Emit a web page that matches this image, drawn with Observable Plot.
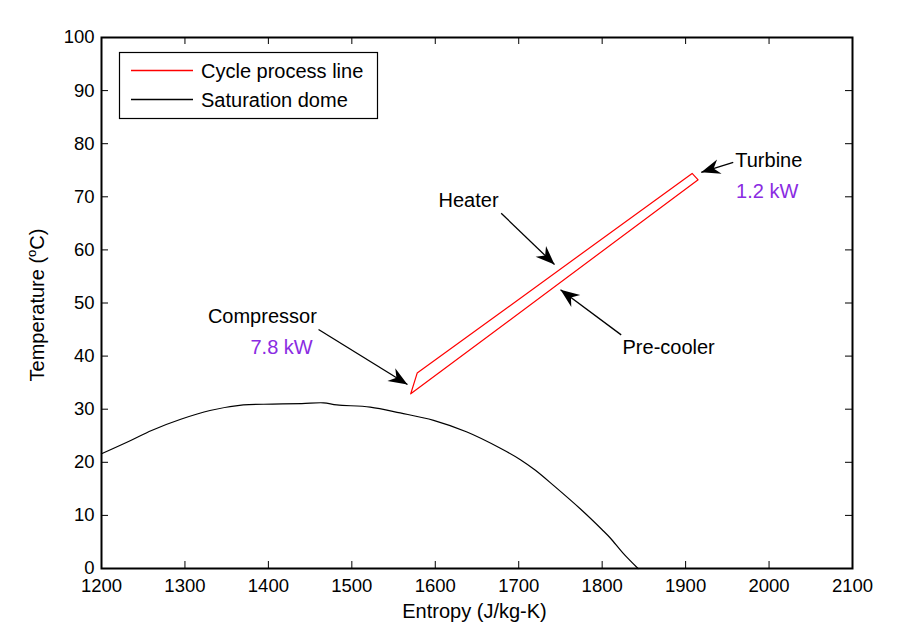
<!DOCTYPE html>
<html><head><meta charset="utf-8">
<script src="https://cdn.jsdelivr.net/npm/d3@7"></script>
<script src="https://cdn.jsdelivr.net/npm/@observablehq/plot@0.6"></script>
<style>
html,body{margin:0;padding:0;background:#fff;}
#chart svg{display:block;}
</style></head><body><div id="chart"></div>
<script>
// ---- data ----
const domeEntropy = [1200, 1235, 1260, 1295, 1330, 1370, 1405, 1440, 1466, 1482, 1522, 1558, 1598, 1638, 1678, 1702, 1720, 1742, 1774, 1800, 1810, 1825, 1843];
const domeTemp    = [21.6, 24.1, 26.0, 28.1, 29.75, 30.8, 30.95, 31.05, 31.2, 30.8, 30.4, 29.3, 27.9, 25.7, 22.65, 20.5, 18.5, 15.6, 11.2, 7.3, 5.7, 2.9, 0];

const cycleEntropy = [1570.6, 1578.3, 1907.8, 1915.0, 1570.6];
const cycleTemp    = [32.9, 36.8, 74.4, 73.2, 32.9];

const xTicks = [1200, 1300, 1400, 1500, 1600, 1700, 1800, 1900, 2000, 2100];
const yTicks = [0, 10, 20, 30, 40, 50, 60, 70, 80, 90, 100];

const labelTexts   = ["Heater", "Pre-cooler", "Turbine", "Compressor"];
const labelEntropy = [1603.9, 1824.4, 1959.5, 1327.5];
const labelTemp    = [69.3, 41.6, 76.9, 47.4];

const powerTexts   = ["1.2 kW", "7.8 kW"];
const powerEntropy = [1960.5, 1378.5];
const powerTemp    = [71.0, 41.6];

const arrowFromS = [1679.0, 1822.8, 1957.1, 1460.1];
const arrowFromT = [66.9, 44.0, 76.5, 45.0];
const arrowToS   = [1742.9, 1750.1, 1918.7, 1566.7];
const arrowToT   = [57.25, 52.5, 74.6, 34.65];

const legendLabels = ["Cycle process line", "Saturation dome"];
const legendColors = ["#ff0000", "#000000"];

// ---- layout ----
const W = 905, H = 633;
const mL = 101, mR = 53, mT = 37, mB = 65;
const plotW = W - mL - mR, plotH = H - mT - mB;
const xDomain = [1200, 2100], yDomain = [0, 100];
const kx = plotW / (xDomain[1] - xDomain[0]);
const ky = plotH / (yDomain[1] - yDomain[0]);
const FONT = "'Liberation Sans', Arial, sans-serif";

const dome = domeEntropy.map((s, i) => ({s, t: domeTemp[i]}));
const cycle = cycleEntropy.map((s, i) => ({s, t: cycleTemp[i]}));
const labels = labelTexts.map((text, i) => ({text, s: labelEntropy[i], t: labelTemp[i]}));
const powers = powerTexts.map((text, i) => ({text, s: powerEntropy[i], t: powerTemp[i]}));
const arrows = arrowFromS.map((s, i) => {
  const a = {s1: s, t1: arrowFromT[i], s2: arrowToS[i], t2: arrowToT[i]};
  a.angle = Math.atan2((a.s2 - a.s1) * kx, (a.t2 - a.t1) * ky) * 180 / Math.PI;
  return a;
});

// filled notched arrow head, pointing up with tip at origin
const headSymbol = {
  draw(ctx) {
    const L = 19, Wd = 7.5, N = 6;
    ctx.moveTo(0, 0);
    ctx.lineTo(Wd, L);
    ctx.lineTo(0, L - N);
    ctx.lineTo(-Wd, L);
    ctx.closePath();
  }
};

const chart = Plot.plot({
  width: W, height: H,
  marginLeft: mL, marginRight: mR, marginTop: mT, marginBottom: mB,
  style: {fontFamily: FONT, fontSize: "18.5px", color: "black", background: "white"},
  x: {domain: xDomain},
  y: {domain: yDomain},
  marks: [
    Plot.line(dome, {x: "s", y: "t", stroke: "black", strokeWidth: 1.2, curve: "catmull-rom"}),
    Plot.line(cycle, {x: "s", y: "t", stroke: "#ff0000", strokeWidth: 1.2}),
    Plot.link(arrows, {x1: "s1", y1: "t1", x2: "s2", y2: "t2", stroke: "black", strokeWidth: 1.3}),
    Plot.dot(arrows, {x: "s2", y: "t2", symbol: headSymbol, r: 1, fill: "black", stroke: "none", rotate: "angle"}),
    Plot.text(labels, {x: "s", y: "t", text: "text", textAnchor: "start", lineAnchor: "middle", fontSize: 20, fill: "black"}),
    Plot.text(powers, {x: "s", y: "t", text: "text", textAnchor: "start", lineAnchor: "middle", fontSize: 20, fill: "#8a2be2"}),
    // inward ticks on all four sides
    Plot.tickX(xTicks, {x: d => d, insetTop: plotH - 7, stroke: "black"}),
    Plot.tickX(xTicks, {x: d => d, insetBottom: plotH - 7, stroke: "black"}),
    Plot.tickY(yTicks, {y: d => d, insetRight: plotW - 7, stroke: "black"}),
    Plot.tickY(yTicks, {y: d => d, insetLeft: plotW - 7, stroke: "black"}),
    Plot.axisX(xTicks, {tickSize: 0, tickPadding: 10, label: null, fontSize: 18.5, tickFormat: d => String(d)}),
    Plot.axisY(yTicks, {tickSize: 0, tickPadding: 7, label: null, fontSize: 18.5, tickFormat: d => String(d)}),
    Plot.frame({stroke: "black", strokeWidth: 2})
  ]
});

document.getElementById("chart").appendChild(chart);

const svg = d3.select(chart);

// axis labels
svg.append("text")
  .attr("x", 474.5).attr("y", 618)
  .attr("text-anchor", "middle")
  .attr("font-family", FONT).attr("font-size", 20).attr("fill", "black")
  .text("Entropy (J/kg-K)");

const yl = svg.append("text")
  .attr("transform", "translate(43.5,305) rotate(-90)")
  .attr("text-anchor", "middle")
  .attr("font-family", FONT).attr("font-size", 20).attr("fill", "black");
yl.append("tspan").text("Temperature (");
yl.append("tspan").attr("font-size", 13).attr("dy", -8).text("o");
yl.append("tspan").attr("dy", 8).text("C)");

// legend
const lg = svg.append("g");
lg.append("rect")
  .attr("x", 119.5).attr("y", 52.5).attr("width", 258).attr("height", 66)
  .attr("fill", "white").attr("stroke", "black").attr("stroke-width", 1.2);
legendLabels.forEach((lab, i) => {
  const y = 70.5 + i * 29;
  lg.append("line").attr("x1", 131).attr("x2", 193).attr("y1", y).attr("y2", y)
    .attr("stroke", legendColors[i]).attr("stroke-width", 1.3);
  lg.append("text").attr("x", 201).attr("y", y).attr("dy", "0.35em")
    .attr("text-anchor", "start")
    .attr("font-family", FONT).attr("font-size", 20).attr("fill", "black")
    .text(lab);
});
</script>
</body></html>
